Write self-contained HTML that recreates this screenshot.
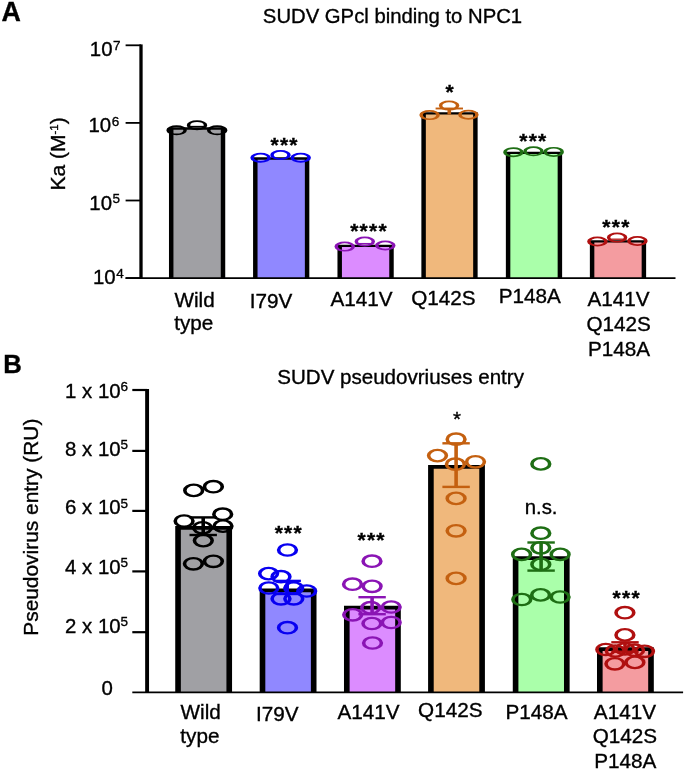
<!DOCTYPE html>
<html><head><meta charset="utf-8"><title>SUDV figure</title>
<style>
html,body{margin:0;padding:0;background:#fff;}
svg{display:block;will-change:transform;font-family:"Liberation Sans", sans-serif;fill:#000;}
text{stroke:#000;stroke-width:0.35px;}
</style></head><body>
<svg width="685" height="771" viewBox="0 0 685 771">
<rect width="685" height="771" fill="#fff"/>
<text x="1.4" y="21" font-size="26.8" font-weight="bold">A</text>
<text x="392.5" y="23.3" font-size="20.3" text-anchor="middle" font-weight="normal" >SUDV GPcl binding to NPC1</text>
<text transform="translate(65.3,153.9) rotate(-90)" font-size="21" text-anchor="middle">Ka (M<tspan font-size="11.5" dy="-7.6">-1</tspan><tspan dy="7.6">)</tspan></text>
<line x1="125.6" y1="45.3" x2="141" y2="45.3" stroke="#000" stroke-width="1.8"/>
<text x="112.5" y="56.4" font-size="20.4" text-anchor="end" font-weight="normal" >10</text>
<text x="113.1" y="49.9" font-size="13.5" text-anchor="start" font-weight="normal" >7</text>
<line x1="125.6" y1="122.9" x2="141" y2="122.9" stroke="#000" stroke-width="1.8"/>
<text x="111.1" y="132.3" font-size="20.4" text-anchor="end" font-weight="normal" >10</text>
<text x="111.7" y="125.8" font-size="13.5" text-anchor="start" font-weight="normal" >6</text>
<line x1="125.6" y1="200.5" x2="141" y2="200.5" stroke="#000" stroke-width="1.8"/>
<text x="112" y="209.5" font-size="20.4" text-anchor="end" font-weight="normal" >10</text>
<text x="112.6" y="203" font-size="13.5" text-anchor="start" font-weight="normal" >5</text>
<line x1="125.6" y1="278.1" x2="141" y2="278.1" stroke="#000" stroke-width="1.8"/>
<text x="115.6" y="284.3" font-size="20.4" text-anchor="end" font-weight="normal" >10</text>
<text x="116.2" y="277.8" font-size="13.5" text-anchor="start" font-weight="normal" >4</text>
<line x1="141" y1="44.4" x2="141" y2="278.1" stroke="#000" stroke-width="3.3"/>
<g transform="scale(1.9,1)">
<path d="M90.11 278.1V128.5H117.37V278.1" fill="#a0a0a4" stroke="#000" stroke-width="2.35"/>
<path d="M134.37 278.1V158.5H161.63V278.1" fill="#9088ff" stroke="#000" stroke-width="2.35"/>
<path d="M178.79 278.1V245.8H206.05V278.1" fill="#dc8cff" stroke="#000" stroke-width="2.35"/>
<path d="M222.95 278.1V113.4H250.21V278.1" fill="#f0b87c" stroke="#000" stroke-width="2.35"/>
<path d="M267.42 278.1V152.9H294.68V278.1" fill="#aaffaa" stroke="#000" stroke-width="2.35"/>
<path d="M311.63 278.1V241.4H338.89V278.1" fill="#f49ca0" stroke="#000" stroke-width="2.35"/>
</g>
<line x1="125.6" y1="278.1" x2="675.5" y2="278.1" stroke="#000" stroke-width="1.8"/>
<g transform="scale(1.9,1)">
<line x1="99.26" y1="126.5" x2="108.21" y2="126.5" stroke="#000000" stroke-width="1.3"/>
<line x1="187.95" y1="243.6" x2="196.89" y2="243.6" stroke="#8a14b4" stroke-width="1.3"/>
<line x1="236.47" y1="108.5" x2="236.47" y2="114.6" stroke="#c46010" stroke-width="1.9"/>
<line x1="229.26" y1="108.5" x2="243.68" y2="108.5" stroke="#c46010" stroke-width="1.9"/>
<line x1="320.79" y1="239.2" x2="329.74" y2="239.2" stroke="#b01010" stroke-width="1.3"/>
</g>
<g transform="scale(2.05,1)">
<circle cx="86.15" cy="130.3" r="4.15" fill="none" stroke="#000000" stroke-width="1.7"/>
<circle cx="96.1" cy="125.2" r="4.15" fill="none" stroke="#000000" stroke-width="1.7"/>
<circle cx="105.95" cy="130.3" r="4.15" fill="none" stroke="#000000" stroke-width="1.7"/>
<circle cx="127.12" cy="157.75" r="4.15" fill="none" stroke="#0800f0" stroke-width="1.7"/>
<circle cx="136.83" cy="155" r="4.15" fill="none" stroke="#0800f0" stroke-width="1.7"/>
<circle cx="146.68" cy="157.75" r="4.15" fill="none" stroke="#0800f0" stroke-width="1.7"/>
<circle cx="168.15" cy="246.6" r="4.15" fill="none" stroke="#8a14b4" stroke-width="1.7"/>
<circle cx="177.95" cy="241.5" r="4.15" fill="none" stroke="#8a14b4" stroke-width="1.7"/>
<circle cx="187.95" cy="245.5" r="4.15" fill="none" stroke="#8a14b4" stroke-width="1.7"/>
<circle cx="209.56" cy="115.1" r="4.15" fill="none" stroke="#c46010" stroke-width="1.7"/>
<circle cx="219.07" cy="105.6" r="4.15" fill="none" stroke="#c46010" stroke-width="1.7"/>
<circle cx="228.49" cy="114.7" r="4.15" fill="none" stroke="#c46010" stroke-width="1.7"/>
<circle cx="250.44" cy="152.2" r="4.15" fill="none" stroke="#1e6e14" stroke-width="1.7"/>
<circle cx="260.24" cy="151.3" r="4.15" fill="none" stroke="#1e6e14" stroke-width="1.7"/>
<circle cx="270.1" cy="151.9" r="4.15" fill="none" stroke="#1e6e14" stroke-width="1.7"/>
<circle cx="291.41" cy="241.5" r="4.15" fill="none" stroke="#b01010" stroke-width="1.7"/>
<circle cx="301.02" cy="237.6" r="4.15" fill="none" stroke="#b01010" stroke-width="1.7"/>
<circle cx="310.93" cy="241" r="4.15" fill="none" stroke="#b01010" stroke-width="1.7"/>
</g>
<text x="284.6" y="151.7" font-size="21" text-anchor="middle" font-weight="bold" letter-spacing="1.25" stroke="none">***</text>
<text x="369" y="237.5" font-size="21" text-anchor="middle" font-weight="bold" letter-spacing="1.25" stroke="none">****</text>
<text x="450.1" y="99.3" font-size="21" text-anchor="middle" font-weight="bold" letter-spacing="1.25" stroke="none">*</text>
<text x="533.4" y="147.8" font-size="21" text-anchor="middle" font-weight="bold" letter-spacing="1.25" stroke="none">***</text>
<text x="616.5" y="234.2" font-size="21" text-anchor="middle" font-weight="bold" letter-spacing="1.25" stroke="none">***</text>
<text x="194.6" y="306.5" font-size="20.7" text-anchor="middle" font-weight="normal" >Wild</text>
<text x="193.8" y="330.4" font-size="20.7" text-anchor="middle" font-weight="normal" >type</text>
<text x="271" y="307.9" font-size="20.7" text-anchor="middle" font-weight="normal" >I79V</text>
<text x="361.6" y="306" font-size="20.7" text-anchor="middle" font-weight="normal" >A141V</text>
<text x="443.4" y="304.5" font-size="20.7" text-anchor="middle" font-weight="normal" >Q142S</text>
<text x="529.8" y="302.9" font-size="20.7" text-anchor="middle" font-weight="normal" >P148A</text>
<text x="618.6" y="306.4" font-size="20.7" text-anchor="middle" font-weight="normal" >A141V</text>
<text x="618.6" y="330.9" font-size="20.7" text-anchor="middle" font-weight="normal" >Q142S</text>
<text x="619" y="355.6" font-size="20.7" text-anchor="middle" font-weight="normal" >P148A</text>
<text x="3.2" y="372.7" font-size="25.7" font-weight="bold">B</text>
<text x="400.6" y="384.4" font-size="20.55" text-anchor="middle" font-weight="normal" >SUDV pseudovriuses entry</text>
<text transform="translate(37.7,527.2) rotate(-90)" font-size="20.9" text-anchor="middle">Pseudovirus entry (RU)</text>
<line x1="132.3" y1="390" x2="147.1" y2="390" stroke="#000" stroke-width="2.2"/>
<text x="120.6" y="398.1" font-size="20.4" text-anchor="end" font-weight="normal" >1 x 10</text>
<text x="120.4" y="391.2" font-size="13.5" text-anchor="start" font-weight="normal" >6</text>
<line x1="132.3" y1="450.9" x2="147.1" y2="450.9" stroke="#000" stroke-width="2.2"/>
<text x="120.6" y="456" font-size="20.4" text-anchor="end" font-weight="normal" >8 x 10</text>
<text x="120.4" y="449.1" font-size="13.5" text-anchor="start" font-weight="normal" >5</text>
<line x1="132.3" y1="510.9" x2="147.1" y2="510.9" stroke="#000" stroke-width="2.2"/>
<text x="120.6" y="514.4" font-size="20.4" text-anchor="end" font-weight="normal" >6 x 10</text>
<text x="120.4" y="507.5" font-size="13.5" text-anchor="start" font-weight="normal" >5</text>
<line x1="132.3" y1="571.4" x2="147.1" y2="571.4" stroke="#000" stroke-width="2.2"/>
<text x="120.6" y="573.9" font-size="20.4" text-anchor="end" font-weight="normal" >4 x 10</text>
<text x="120.4" y="567" font-size="13.5" text-anchor="start" font-weight="normal" >5</text>
<line x1="132.3" y1="632.2" x2="147.1" y2="632.2" stroke="#000" stroke-width="2.2"/>
<text x="120.6" y="633.1" font-size="20.4" text-anchor="end" font-weight="normal" >2 x 10</text>
<text x="120.4" y="626.2" font-size="13.5" text-anchor="start" font-weight="normal" >5</text>
<text x="112.8" y="694.7" font-size="20.4" text-anchor="end" font-weight="normal" >0</text>
<line x1="147.1" y1="388.9" x2="147.1" y2="692.4" stroke="#000" stroke-width="3.9"/>
<g transform="scale(1.5,1)">
<path d="M118.7 692.4V527.8H152.83V692.4" fill="#a0a0a4" stroke="#000" stroke-width="3.75"/>
<path d="M175 692.4V590.4H209.13V692.4" fill="#9088ff" stroke="#000" stroke-width="3.75"/>
<path d="M231.2 692.4V607.7H265.33V692.4" fill="#dc8cff" stroke="#000" stroke-width="3.75"/>
<path d="M287.27 692.4V466.9H321.4V692.4" fill="#f0b87c" stroke="#000" stroke-width="3.75"/>
<path d="M343.73 692.4V558.1H377.87V692.4" fill="#aaffaa" stroke="#000" stroke-width="3.75"/>
<path d="M399.87 692.4V649H434V692.4" fill="#f49ca0" stroke="#000" stroke-width="3.75"/>
</g>
<line x1="132.3" y1="692.4" x2="683.1" y2="692.4" stroke="#000" stroke-width="1.8"/>
<g transform="scale(1.5,1)">
<line x1="135.47" y1="517.4" x2="135.47" y2="535" stroke="#000000" stroke-width="2.4"/>
<line x1="126.33" y1="517.4" x2="144.6" y2="517.4" stroke="#000000" stroke-width="2.4"/>
<line x1="126.33" y1="535" x2="144.6" y2="535" stroke="#000000" stroke-width="2.4"/>
<line x1="191.47" y1="580.9" x2="191.47" y2="594" stroke="#0800f0" stroke-width="2.4"/>
<line x1="182.33" y1="580.9" x2="200.6" y2="580.9" stroke="#0800f0" stroke-width="2.4"/>
<line x1="182.33" y1="594" x2="200.6" y2="594" stroke="#0800f0" stroke-width="2.4"/>
<line x1="248.07" y1="597.2" x2="248.07" y2="614.2" stroke="#8a14b4" stroke-width="2.4"/>
<line x1="238.93" y1="597.2" x2="257.2" y2="597.2" stroke="#8a14b4" stroke-width="2.4"/>
<line x1="238.93" y1="614.2" x2="257.2" y2="614.2" stroke="#8a14b4" stroke-width="2.4"/>
<line x1="304.07" y1="443.3" x2="304.07" y2="486.9" stroke="#c46010" stroke-width="2.4"/>
<line x1="294.93" y1="443.3" x2="313.2" y2="443.3" stroke="#c46010" stroke-width="2.4"/>
<line x1="294.93" y1="486.9" x2="313.2" y2="486.9" stroke="#c46010" stroke-width="2.4"/>
<line x1="360.73" y1="542.5" x2="360.73" y2="570.6" stroke="#1e6e14" stroke-width="2.4"/>
<line x1="351.6" y1="542.5" x2="369.87" y2="542.5" stroke="#1e6e14" stroke-width="2.4"/>
<line x1="351.6" y1="570.6" x2="369.87" y2="570.6" stroke="#1e6e14" stroke-width="2.4"/>
<line x1="416.67" y1="642.3" x2="416.67" y2="651.7" stroke="#b01010" stroke-width="2.4"/>
<line x1="407.53" y1="642.3" x2="425.8" y2="642.3" stroke="#b01010" stroke-width="2.4"/>
<line x1="407.53" y1="651.7" x2="425.8" y2="651.7" stroke="#b01010" stroke-width="2.4"/>
</g>
<g transform="scale(1.56,1)">
<circle cx="124.17" cy="490.4" r="5.7" fill="none" stroke="#000000" stroke-width="2.3"/>
<circle cx="136.79" cy="486.7" r="5.7" fill="none" stroke="#000000" stroke-width="2.3"/>
<circle cx="142.76" cy="514.2" r="5.7" fill="none" stroke="#000000" stroke-width="2.3"/>
<circle cx="118.01" cy="521" r="5.7" fill="none" stroke="#000000" stroke-width="2.3"/>
<circle cx="142.95" cy="526.1" r="5.7" fill="none" stroke="#000000" stroke-width="2.3"/>
<circle cx="129.81" cy="527.8" r="5.7" fill="none" stroke="#000000" stroke-width="2.3"/>
<circle cx="130.32" cy="540.6" r="5.7" fill="none" stroke="#000000" stroke-width="2.3"/>
<circle cx="123.97" cy="563.8" r="5.7" fill="none" stroke="#000000" stroke-width="2.3"/>
<circle cx="136.79" cy="561.3" r="5.7" fill="none" stroke="#000000" stroke-width="2.3"/>
<circle cx="184.29" cy="550" r="5.7" fill="none" stroke="#0800f0" stroke-width="2.3"/>
<circle cx="172.18" cy="573.6" r="5.7" fill="none" stroke="#0800f0" stroke-width="2.3"/>
<circle cx="180.13" cy="576.7" r="5.7" fill="none" stroke="#0800f0" stroke-width="2.3"/>
<circle cx="172.31" cy="588" r="5.7" fill="none" stroke="#0800f0" stroke-width="2.3"/>
<circle cx="188.27" cy="588.1" r="5.7" fill="none" stroke="#0800f0" stroke-width="2.3"/>
<circle cx="196.6" cy="591" r="5.7" fill="none" stroke="#0800f0" stroke-width="2.3"/>
<circle cx="180.13" cy="598.8" r="5.7" fill="none" stroke="#0800f0" stroke-width="2.3"/>
<circle cx="188.33" cy="598.8" r="5.7" fill="none" stroke="#0800f0" stroke-width="2.3"/>
<circle cx="184.29" cy="627.7" r="5.7" fill="none" stroke="#0800f0" stroke-width="2.3"/>
<circle cx="238.46" cy="561.2" r="5.7" fill="none" stroke="#8a14b4" stroke-width="2.3"/>
<circle cx="225.96" cy="584.2" r="5.7" fill="none" stroke="#8a14b4" stroke-width="2.3"/>
<circle cx="238.53" cy="586.3" r="5.7" fill="none" stroke="#8a14b4" stroke-width="2.3"/>
<circle cx="250.77" cy="607" r="5.7" fill="none" stroke="#8a14b4" stroke-width="2.3"/>
<circle cx="237.63" cy="607.7" r="5.7" fill="none" stroke="#8a14b4" stroke-width="2.3"/>
<circle cx="226.09" cy="614.8" r="5.7" fill="none" stroke="#8a14b4" stroke-width="2.3"/>
<circle cx="238.4" cy="623.5" r="5.7" fill="none" stroke="#8a14b4" stroke-width="2.3"/>
<circle cx="250.77" cy="622.5" r="5.7" fill="none" stroke="#8a14b4" stroke-width="2.3"/>
<circle cx="238.78" cy="643" r="5.7" fill="none" stroke="#8a14b4" stroke-width="2.3"/>
<circle cx="292.37" cy="439.2" r="5.7" fill="none" stroke="#c46010" stroke-width="2.3"/>
<circle cx="280.45" cy="455.6" r="5.7" fill="none" stroke="#c46010" stroke-width="2.3"/>
<circle cx="291.92" cy="464.2" r="5.7" fill="none" stroke="#c46010" stroke-width="2.3"/>
<circle cx="304.81" cy="461.8" r="5.7" fill="none" stroke="#c46010" stroke-width="2.3"/>
<circle cx="292.37" cy="498.4" r="5.7" fill="none" stroke="#c46010" stroke-width="2.3"/>
<circle cx="292.37" cy="530.8" r="5.7" fill="none" stroke="#c46010" stroke-width="2.3"/>
<circle cx="292.37" cy="578.4" r="5.7" fill="none" stroke="#c46010" stroke-width="2.3"/>
<circle cx="346.67" cy="463.9" r="5.7" fill="none" stroke="#1e6e14" stroke-width="2.3"/>
<circle cx="346.67" cy="533.2" r="5.7" fill="none" stroke="#1e6e14" stroke-width="2.3"/>
<circle cx="346.67" cy="547.8" r="5.7" fill="none" stroke="#1e6e14" stroke-width="2.3"/>
<circle cx="334.36" cy="554.4" r="5.7" fill="none" stroke="#1e6e14" stroke-width="2.3"/>
<circle cx="359.04" cy="554.4" r="5.7" fill="none" stroke="#1e6e14" stroke-width="2.3"/>
<circle cx="346.67" cy="564.4" r="5.7" fill="none" stroke="#1e6e14" stroke-width="2.3"/>
<circle cx="334.49" cy="599.5" r="5.7" fill="none" stroke="#1e6e14" stroke-width="2.3"/>
<circle cx="346.54" cy="594.9" r="5.7" fill="none" stroke="#1e6e14" stroke-width="2.3"/>
<circle cx="359.04" cy="597" r="5.7" fill="none" stroke="#1e6e14" stroke-width="2.3"/>
<circle cx="400.58" cy="612.7" r="5.7" fill="none" stroke="#b01010" stroke-width="2.3"/>
<circle cx="400.58" cy="634.9" r="5.7" fill="none" stroke="#b01010" stroke-width="2.3"/>
<circle cx="388.33" cy="649.5" r="5.7" fill="none" stroke="#b01010" stroke-width="2.3"/>
<circle cx="394.42" cy="651" r="5.7" fill="none" stroke="#b01010" stroke-width="2.3"/>
<circle cx="406.79" cy="650.2" r="5.7" fill="none" stroke="#b01010" stroke-width="2.3"/>
<circle cx="413.14" cy="651.3" r="5.7" fill="none" stroke="#b01010" stroke-width="2.3"/>
<circle cx="394.17" cy="663.8" r="5.7" fill="none" stroke="#b01010" stroke-width="2.3"/>
<circle cx="406.99" cy="662.4" r="5.7" fill="none" stroke="#b01010" stroke-width="2.3"/>
<circle cx="400.64" cy="649" r="5.7" fill="none" stroke="#b01010" stroke-width="2.3"/>
</g>
<text x="288.8" y="539.5" font-size="21" text-anchor="middle" font-weight="bold" letter-spacing="1.25" stroke="none">***</text>
<text x="371.6" y="547.4" font-size="21" text-anchor="middle" font-weight="bold" letter-spacing="1.25" stroke="none">***</text>
<text x="626.7" y="604.5" font-size="21" text-anchor="middle" font-weight="bold" letter-spacing="1.25" stroke="none">***</text>
<text x="457.1" y="426.2" font-size="20.5" text-anchor="middle" font-weight="normal" >*</text>
<text x="541.1" y="514.2" font-size="20.4" text-anchor="middle" font-weight="normal" >n.s.</text>
<text x="200.65" y="718.8" font-size="20.7" text-anchor="middle" font-weight="normal" >Wild</text>
<text x="199.9" y="743.4" font-size="20.7" text-anchor="middle" font-weight="normal" >type</text>
<text x="277.3" y="721.3" font-size="20.7" text-anchor="middle" font-weight="normal" >I79V</text>
<text x="368.5" y="718.8" font-size="20.7" text-anchor="middle" font-weight="normal" >A141V</text>
<text x="450.3" y="716.8" font-size="20.7" text-anchor="middle" font-weight="normal" >Q142S</text>
<text x="536.6" y="718.6" font-size="20.7" text-anchor="middle" font-weight="normal" >P148A</text>
<text x="624.9" y="718.9" font-size="20.7" text-anchor="middle" font-weight="normal" >A141V</text>
<text x="624.9" y="743.4" font-size="20.7" text-anchor="middle" font-weight="normal" >Q142S</text>
<text x="625.3" y="768.1" font-size="20.7" text-anchor="middle" font-weight="normal" >P148A</text>
</svg>
</body></html>
